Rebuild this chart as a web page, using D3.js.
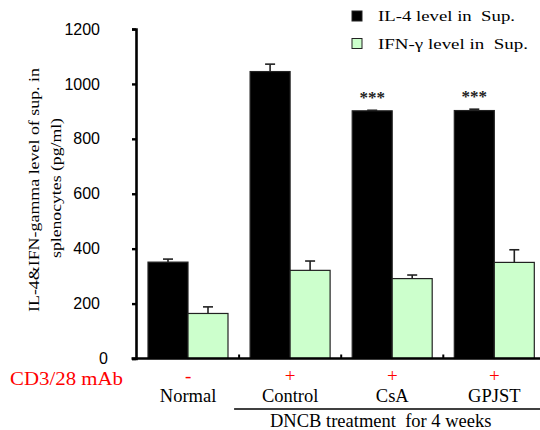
<!DOCTYPE html>
<meta charset="utf-8">
<style>
body { margin: 0; background: #fff; }
text { font-family: "Liberation Serif", "Times New Roman", serif; }
.tick text { font-family: "Liberation Sans", Arial, sans-serif; font-size: 16px; fill: #000; }
</style>
<body>
<script src="https://d3js.org/d3.v7.min.js"></script>
<script>

// data
var groups = ["Normal", "Control", "CsA", "GPJST"];
var cd3 = ["-", "+", "+", "+"];
var il4 = [351, 1045, 902, 903];
var il4Err = [11, 27, 2, 5];
var ifn = [164, 321, 291, 350];
var ifnErr = [24, 34, 13, 46];
var stars = ["", "", "***", "***"];
var yTicks = [0, 200, 400, 600, 800, 1000, 1200];
var series = ["IL-4 level in  Sup.", "IFN-\u03b3 level in  Sup."];
var colors = ["#000000", "#ccffcc"];

var svg = d3.select("body").append("svg")
    .attr("width", 540)
    .attr("height", 430);

// scales
var x = d3.scaleBand().domain(groups).range([137, 545.4]);
var xs = d3.scaleBand().domain(series).range([11, 91]);
var y = d3.scaleLinear().domain([0, 1200]).range([358.5, 29]);

var rows = groups.map(function(g, i) {
  return [
    {g: g, s: series[0], v: il4[i], e: il4Err[i], c: colors[0]},
    {g: g, s: series[1], v: ifn[i], e: ifnErr[i], c: colors[1]}
  ];
});

// bars
var grp = svg.selectAll(".grp")
    .data(rows)
  .enter().append("g")
    .attr("class", "grp")
    .attr("transform", function(d, i) { return "translate(" + x(groups[i]) + ",0)"; });

grp.selectAll("rect")
    .data(function(d) { return d; })
  .enter().append("rect")
    .attr("x", function(d) { return xs(d.s); })
    .attr("width", xs.bandwidth())
    .attr("y", function(d) { return y(d.v); })
    .attr("height", function(d) { return y(0) - y(d.v); })
    .attr("fill", function(d) { return d.c; })
    .attr("stroke", "#222")
    .attr("stroke-width", 1.2);

// error bars
var eb = grp.selectAll(".err")
    .data(function(d) { return d; })
  .enter().append("g")
    .attr("class", "err")
    .attr("stroke", "#222")
    .attr("stroke-width", 1.6);
eb.append("line")
    .attr("x1", function(d) { return xs(d.s) + xs.bandwidth() / 2; })
    .attr("x2", function(d) { return xs(d.s) + xs.bandwidth() / 2; })
    .attr("y1", function(d) { return y(d.v); })
    .attr("y2", function(d) { return y(d.v + d.e); });
eb.append("line")
    .attr("x1", function(d) { return xs(d.s) + xs.bandwidth() / 2 - 5; })
    .attr("x2", function(d) { return xs(d.s) + xs.bandwidth() / 2 + 5; })
    .attr("y1", function(d) { return y(d.v + d.e); })
    .attr("y2", function(d) { return y(d.v + d.e); });

// significance stars
svg.selectAll(".star")
    .data(groups)
  .enter().append("text")
    .attr("class", "star")
    .attr("x", function(g) { return x(g) + xs(series[0]) + xs.bandwidth() / 2; })
    .attr("y", function(g, i) { return y(il4[i] + il4Err[i]) - 7; })
    .attr("text-anchor", "middle")
    .attr("font-size", "17px")
    .attr("font-weight", "bold")
    .attr("fill", "#222")
    .text(function(g, i) { return stars[i]; });

// y axis
var yAxis = svg.append("g")
    .attr("transform", "translate(136,0)")
    .call(d3.axisLeft(y).tickValues(yTicks).tickSize(4).tickPadding(32).tickFormat(d3.format("d")));
yAxis.select(".domain").attr("stroke-width", 2.6);
yAxis.selectAll(".tick line").attr("stroke-width", 2.4);
yAxis.selectAll(".tick text")
    .attr("dx", function(d) { return d === 0 ? 8 : 0; })
    .attr("dy", "0.32em");

// x axis line and category boundary ticks
svg.append("line")
    .attr("x1", 131.5).attr("x2", 540)
    .attr("y1", y(0)).attr("y2", y(0))
    .attr("stroke", "#000").attr("stroke-width", 2.6);
svg.selectAll(".xtick")
    .data(groups.slice(1))
  .enter().append("line")
    .attr("x1", function(g) { return x(g); })
    .attr("x2", function(g) { return x(g); })
    .attr("y1", y(0)).attr("y2", y(0) - 4)
    .attr("stroke", "#000").attr("stroke-width", 2);

// category labels
svg.selectAll(".cd3")
    .data(groups)
  .enter().append("text")
    .attr("x", function(g) { return x(g) + x.bandwidth() / 2; })
    .attr("y", 382)
    .attr("text-anchor", "middle")
    .attr("font-size", "19px")
    .attr("fill", "#ff0000")
    .text(function(g, i) { return cd3[i]; });
svg.selectAll(".glab")
    .data(groups)
  .enter().append("text")
    .attr("x", function(g) { return x(g) + x.bandwidth() / 2; })
    .attr("y", 402)
    .attr("text-anchor", "middle")
    .attr("font-size", "18.5px")
    .attr("fill", "#000")
    .text(function(g) { return g; });

svg.append("text")
    .attr("x", 10).attr("y", 385)
    .attr("font-size", "19px")
    .attr("font-family", "Liberation Serif, serif")
    .attr("textLength", 113)
    .attr("lengthAdjust", "spacingAndGlyphs")
    .attr("fill", "#ff0000")
    .text("CD3/28 mAb");

// DNCB bracket
svg.append("line")
    .attr("x1", x("Control") - 5).attr("x2", 540)
    .attr("y1", 409).attr("y2", 409)
    .attr("stroke", "#000").attr("stroke-width", 1.4);
svg.append("text")
    .attr("x", 270).attr("y", 427)
    .attr("font-size", "18.5px")
    .style("white-space", "pre")
    .text("DNCB treatment  for 4 weeks");

// y axis title
var yt = svg.append("g").attr("transform", "translate(0,190) rotate(-90)");
yt.append("text")
    .attr("x", 0).attr("y", 39)
    .attr("text-anchor", "middle")
    .attr("font-size", "15px")
    .attr("textLength", 244)
    .attr("lengthAdjust", "spacingAndGlyphs")
    .text("IL-4&IFN-gamma level of sup. in");
yt.append("text")
    .attr("x", 2).attr("y", 61)
    .attr("text-anchor", "middle")
    .attr("font-size", "15px")
    .attr("textLength", 140)
    .attr("lengthAdjust", "spacingAndGlyphs")
    .text("splenocytes (pg/ml)");

// legend
var leg = svg.selectAll(".leg")
    .data(series)
  .enter().append("g")
    .attr("class", "leg")
    .attr("transform", function(d, i) { return "translate(352," + (11 + i * 27.5) + ")"; });
leg.append("rect")
    .attr("width", 10).attr("height", 10)
    .attr("fill", function(d, i) { return colors[i]; })
    .attr("stroke", "#222").attr("stroke-width", 1);
leg.append("text")
    .attr("x", 26).attr("y", 10)
    .attr("font-size", "15px")
    .attr("textLength", function(d, i) { return i === 0 ? 137 : 150; })
    .attr("lengthAdjust", "spacingAndGlyphs")
    .style("white-space", "pre")
    .text(function(d) { return d; });

</script>
</body>
